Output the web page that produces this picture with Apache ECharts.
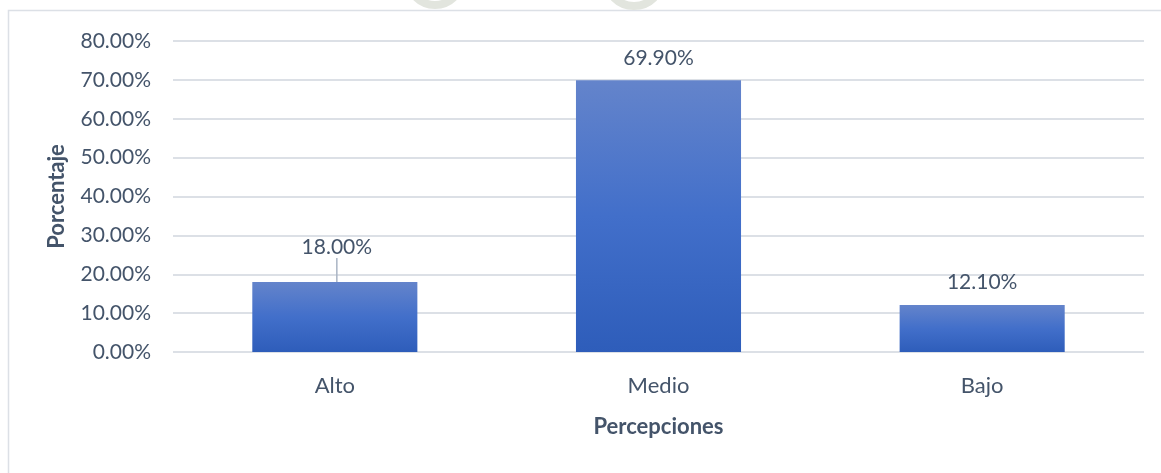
<!DOCTYPE html>
<html>
<head>
<meta charset="utf-8">
<script src="https://cdn.jsdelivr.net/npm/echarts@6/dist/echarts.min.js"></script>
<style>
  html, body { margin: 0; padding: 0; background: #ffffff; }
  #chart { width: 1161px; height: 473px; }
</style>
</head>
<body>
<div id="chart"></div>
<script>
// Perception levels and their share (in percent)
const categories = ['Alto', 'Medio', 'Bajo'];
const percentages = [18.0, 69.9, 12.1];
const yTicks = { min: 0, max: 80, step: 10 };
const xTitle = 'Percepciones';
const yTitle = 'Porcentaje';

const textColor = '#44546A';
const fontFamily = 'Lato, "Open Sans", sans-serif';

const chart = echarts.init(document.getElementById('chart'), null, { renderer: 'canvas' });

const barGradient = new echarts.graphic.LinearGradient(0, 0, 0, 1, [
  { offset: 0, color: '#6484CB' },
  { offset: 0.5, color: '#426FCA' },
  { offset: 1, color: '#2E5DBA' }
]);

chart.setOption({
  backgroundColor: '#ffffff',
  animation: false,
  graphic: [
    // faint seal fragments above the frame
    { type: 'circle', shape: { cx: 435, cy: -22, r: 27 }, style: { fill: 'none', stroke: '#E2E5DE', lineWidth: 8 }, z: -1 },
    { type: 'circle', shape: { cx: 634, cy: -22, r: 28 }, style: { fill: 'none', stroke: '#E2E5DE', lineWidth: 8 }, z: -1 },
    // chart frame
    { type: 'rect', shape: { x: 8.5, y: 10.5, width: 1170, height: 480 }, style: { fill: '#ffffff', stroke: '#DCE0E6', lineWidth: 1.5 }, z: -2 }
  ],
  grid: { left: 173, right: 17, top: 41, bottom: 121 },
  xAxis: {
    type: 'category',
    data: categories,
    name: xTitle,
    nameLocation: 'middle',
    nameGap: 64,
    nameTextStyle: { color: textColor, fontSize: 22, fontWeight: 'bold', fontFamily },
    axisLine: { show: false },
    axisTick: { show: false },
    axisLabel: { color: textColor, fontSize: 22, fontFamily, margin: 23 }
  },
  yAxis: {
    type: 'value',
    min: yTicks.min,
    max: yTicks.max,
    interval: yTicks.step,
    name: yTitle,
    nameLocation: 'middle',
    nameGap: 105,
    nameTextStyle: { color: textColor, fontSize: 22, fontWeight: 'bold', fontFamily },
    axisLine: { show: false },
    axisTick: { show: false },
    axisLabel: {
      color: textColor, fontSize: 21, fontFamily, margin: 22,
      formatter: v => v.toFixed(2) + '%'
    },
    splitLine: { lineStyle: { color: '#DCE0E6', width: 2 } }
  },
  series: [{
    type: 'bar',
    barWidth: '51%',
    data: percentages.map((v, i) => i === 0
      ? { value: v, labelLine: { show: true, lineStyle: { color: '#A9B4C4', width: 1.5 } } }
      : { value: v }),
    itemStyle: { color: barGradient },
    label: {
      show: true,
      position: 'top',
      distance: 12,
      color: textColor,
      fontSize: 21,
      fontFamily,
      formatter: p => p.value.toFixed(2) + '%'
    },
    labelLayout: p => p.dataIndex === 0 ? { dx: 2, dy: -12 } : {}
  }]
});
</script>
</body>
</html>
